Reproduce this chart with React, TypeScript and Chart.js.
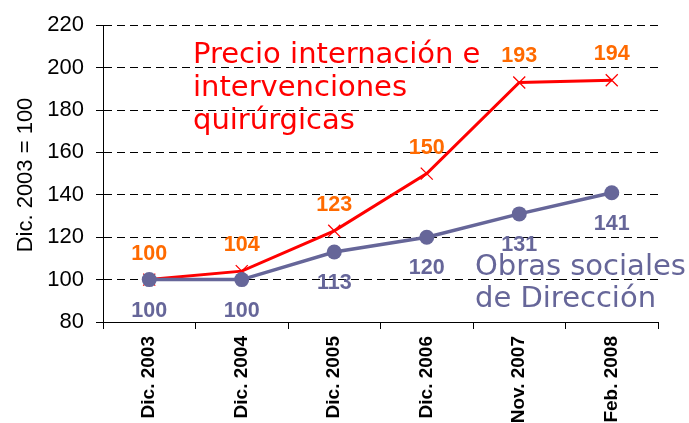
import React, { useEffect, useRef } from "react";
import { Chart, registerables } from "chart.js";

Chart.register(...registerables);

const categories = ["Dic. 2003", "Dic. 2004", "Dic. 2005", "Dic. 2006", "Nov. 2007", "Feb. 2008"];
const precioValues = [100, 104, 123, 150, 193, 194];
const obrasValues = [100, 100, 113, 120, 131, 141];
const yMin = 80;
const yMax = 220;
const yStep = 20;
const yTitle = "Dic. 2003 = 100";
const precioNote = ["Precio internación e", "intervenciones", "quirúrgicas"];
const obrasNote = ["Obras sociales", "de Dirección"];

const RED = "#ff0000";
const ORANGE = "#ff6a00";
const PURPLE = "#666699";
const SANS = "'Liberation Sans', Arial, sans-serif";
const WIDE = "'DejaVu Sans', Verdana, sans-serif";

const W = 689;
const H = 470;

const overlay = {
  id: "overlay",
  afterDatasetsDraw(chart: any) {
    const ctx = chart.ctx;
    ctx.save();
    // value labels
    ctx.font = `bold 21.5px ${SANS}`;
    ctx.textAlign = "center";
    ctx.textBaseline = "middle";
    const mObras = chart.getDatasetMeta(0);
    const mPrecio = chart.getDatasetMeta(1);
    mPrecio.data.forEach((pt: any, i: number) => {
      ctx.fillStyle = ORANGE;
      ctx.fillText(String(precioValues[i]), pt.x, pt.y - 26);
    });
    mObras.data.forEach((pt: any, i: number) => {
      ctx.fillStyle = PURPLE;
      ctx.fillText(String(obrasValues[i]), pt.x, pt.y + 31);
    });
    // notes
    ctx.textAlign = "left";
    ctx.textBaseline = "alphabetic";
    ctx.font = `29px ${WIDE}`;
    ctx.fillStyle = RED;
    precioNote.forEach((t, i) => ctx.fillText(t, 193, 63 + i * 33));
    ctx.fillStyle = PURPLE;
    obrasNote.forEach((t, i) => ctx.fillText(t, 475, 275 + i * 32));
    // y title
    ctx.fillStyle = "#000";
    ctx.font = `22px ${SANS}`;
    ctx.translate(26, 175);
    ctx.rotate(-Math.PI / 2);
    ctx.textAlign = "center";
    ctx.textBaseline = "middle";
    ctx.fillText(yTitle, 0, 0);
    ctx.restore();
  },
};

export default function App() {
  const ref = useRef<HTMLCanvasElement>(null);
  useEffect(() => {
    document.body.style.margin = "0";
    const c = ref.current!;
    const chart = new Chart(c, {
      type: "line",
      data: {
        labels: categories,
        datasets: [
          {
            data: obrasValues,
            borderColor: PURPLE,
            backgroundColor: PURPLE,
            borderWidth: 3.5,
            pointStyle: "circle",
            pointRadius: 7.5,
            pointBorderWidth: 0,
            pointBackgroundColor: PURPLE,
            tension: 0,
          },
          {
            data: precioValues,
            borderColor: RED,
            backgroundColor: RED,
            borderWidth: 3,
            pointStyle: "crossRot",
            pointRadius: 8.5,
            pointBorderWidth: 1.3,
            pointBorderColor: RED,
            tension: 0,
          },
        ],
      },
      options: {
        responsive: false,
        animation: false,
        layout: { padding: { left: 0, top: 21, right: 31, bottom: 0 } },
        plugins: { legend: { display: false }, tooltip: { enabled: false }, title: { display: false } },
        scales: {
          x: {
            type: "category",
            offset: true,
            afterFit: (s: any) => {
              s.height = H - 322;
            },
            grid: {
              offset: true,
              drawOnChartArea: false,
              drawTicks: true,
              tickLength: 7,
              color: "#000",
            },
            border: { display: true, color: "#000", width: 1 },
            ticks: {
              color: "#000",
              font: { family: SANS, size: 19, weight: "bold" },
              minRotation: 90,
              maxRotation: 90,
              padding: 7,
              autoSkip: false,
            },
          },
          y: {
            min: yMin,
            max: yMax,
            afterFit: (s: any) => {
              s.width = 103;
            },
            grid: {
              color: "#000",
              lineWidth: 1,
              tickBorderDash: [],
              tickLength: 7,
              drawTicks: true,
            },
            border: { display: true, color: "#000", width: 1, dash: [8, 5] },
            ticks: {
              stepSize: yStep,
              color: "#000",
              font: { family: SANS, size: 22 },
              padding: 12,
            },
          },
        },
      },
      plugins: [overlay],
    });
    return () => chart.destroy();
  }, []);
  return (
    <div style={{ width: W, height: 423, overflow: "hidden", position: "relative", background: "#fff" }}>
      <canvas ref={ref} width={W} height={H} style={{ display: "block", width: W, height: H }} />
    </div>
  );
}
